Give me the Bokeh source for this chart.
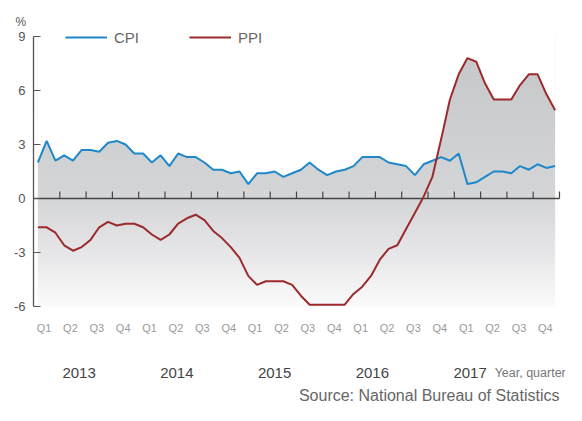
import numpy as np
from bokeh.plotting import figure
from bokeh.models import Range1d, FixedTicker, Legend, LegendItem
from bokeh.core.properties import value
from bokeh.embed import file_html
from bokeh.resources import INLINE

# ---- data (year-on-year %, monthly Jan 2013 .. Dec 2017) ----
years = ["2013", "2014", "2015", "2016", "2017"]
quarters = ["Q1", "Q2", "Q3", "Q4"]
cpi = [2.0, 3.2, 2.1, 2.4, 2.1, 2.7, 2.7, 2.6, 3.1, 3.2, 3.0, 2.5,
       2.5, 2.0, 2.4, 1.8, 2.5, 2.3, 2.3, 2.0, 1.6, 1.6, 1.4, 1.5,
       0.8, 1.4, 1.4, 1.5, 1.2, 1.4, 1.6, 2.0, 1.6, 1.3, 1.5, 1.6,
       1.8, 2.3, 2.3, 2.3, 2.0, 1.9, 1.8, 1.3, 1.9, 2.1, 2.3, 2.1,
       2.5, 0.8, 0.9, 1.2, 1.5, 1.5, 1.4, 1.8, 1.6, 1.9, 1.7, 1.8]
ppi = [-1.6, -1.6, -1.9, -2.6, -2.9, -2.7, -2.3, -1.6, -1.3, -1.5, -1.4, -1.4,
       -1.6, -2.0, -2.3, -2.0, -1.4, -1.1, -0.9, -1.2, -1.8, -2.2, -2.7, -3.3,
       -4.3, -4.8, -4.6, -4.6, -4.6, -4.8, -5.4, -5.9, -5.9, -5.9, -5.9, -5.9,
       -5.3, -4.9, -4.3, -3.4, -2.8, -2.6, -1.7, -0.8, 0.1, 1.2, 3.3, 5.5,
       6.9, 7.8, 7.6, 6.4, 5.5, 5.5, 5.5, 6.3, 6.9, 6.9, 5.8, 4.9]
y_ticks = [-6, -3, 0, 3, 6, 9]

# ---- layout (canvas pixels) ----
W, H = 566, 405
LEFT, RIGHT_PAD, TOP = 33, 1, 28
Y_HI_PX, Y_LO_PX = 36, 306          # canvas rows of 9 and -6
X_END_PX = 559                       # canvas column of the end of 2017
n = len(cpi)
nq = len(years) * len(quarters)
X1 = nq * 3
Y0, Y1 = y_ticks[0], y_ticks[-1]
ppu = (Y_LO_PX - Y_HI_PX) / (Y1 - Y0)          # px per unit
ppm = (X_END_PX - LEFT) / X1                   # px per month
FW = W - LEFT - RIGHT_PAD


def y_at(py):
    return Y1 - (py - Y_HI_PX) / ppu


months = np.arange(n) + 0.5

p = figure(width=W, height=H, output_backend="svg", toolbar_location=None,
           x_range=Range1d(0, FW / ppm), y_range=Range1d(y_at(H), y_at(TOP)),
           x_axis_type=None, min_border_left=LEFT, min_border_right=RIGHT_PAD,
           min_border_top=TOP, min_border_bottom=0)
p.outline_line_color = None
p.ygrid.visible = False

# "%" unit as a title above the y axis
p.title.text = "%"
p.title.align = "left"
p.title.offset = -18
p.title.standoff = 0
p.title.text_font = "Liberation Sans"
p.title.text_font_size = "12px"
p.title.text_font_style = "normal"
p.title.text_color = "#555555"

# ---- gradient fill under the upper envelope of both series ----
xf = np.linspace(months[0], months[-1], (n - 1) * 20 + 1)
top = np.maximum(np.interp(xf, months, cpi), np.interp(xf, months, ppi))

ny = 300
yy = np.linspace(Y0, Y1, ny)
stops_y = [-6, -3, 0, 8, 9]
stops_c = [(251, 251, 251), (231, 231, 233), (213, 214, 216), (199, 200, 202), (198, 199, 201)]
img = np.empty((ny, 1), dtype=np.uint32)
view = img.view(dtype=np.uint8).reshape((ny, 1, 4))
for ch in range(3):
    view[:, 0, ch] = np.interp(yy, stops_y, [c[ch] for c in stops_c]).astype(np.uint8)
view[:, 0, 3] = 255
p.image_rgba(image=[img], x=months[0], y=Y0, dw=months[-1] - months[0], dh=Y1 - Y0)
p.varea(x=xf, y1=top, y2=np.full_like(xf, Y1 + 1), fill_color="white")

# ---- zero axis line with quarter ticks ----
qb = np.arange(0, nq + 1) * 3
tick_len = 7 / ppu
p.segment(x0=[0], y0=[0], x1=[X1], y1=[0], line_color="#444444", line_width=1.3)
p.segment(x0=qb[1:], y0=np.zeros(nq), x1=qb[1:], y1=np.full(nq, tick_len),
          line_color="#444444", line_width=1.2)

# ---- series ----
r_cpi = p.line(months, cpi, line_color="#1f88c9", line_width=2)
r_ppi = p.line(months, ppi, line_color="#9c2a2c", line_width=2)

legend = Legend(items=[LegendItem(label="CPI", renderers=[r_cpi]),
                       LegendItem(label="PPI", renderers=[r_ppi])],
                orientation="horizontal", location=(32, H - 47),
                border_line_color=None, background_fill_alpha=0,
                padding=0, margin=0, spacing=50, glyph_width=42,
                glyph_height=20, label_height=20, label_standoff=7,
                label_text_font="Liberation Sans", label_text_font_size="15px",
                label_text_color="#666666")
p.add_layout(legend)

# ---- y axis ----
ya = p.yaxis[0]
ya.bounds = (Y0, Y1)
ya.ticker = FixedTicker(ticks=y_ticks)
ya.major_label_overrides = {t: str(t) for t in y_ticks}
ya.major_tick_in = 7
ya.major_tick_out = 0
ya.minor_tick_line_color = None
ya.axis_line_color = "#555555"
ya.axis_line_width = 1.3
ya.major_tick_line_color = "#555555"
ya.major_tick_line_width = 1.2
ya.major_label_standoff = 8
ya.major_label_text_font = "Liberation Sans"
ya.major_label_text_font_size = "13px"
ya.major_label_text_color = "#555555"

# ---- quarter and year labels ----
q_pos = [1.2 + 3.01 * k for k in range(nq)]
q_txt = [quarters[k % 4] for k in range(nq)]
p.text(x=q_pos, y=[y_at(327)] * nq, text=q_txt, text_align="center",
       text_baseline="middle", text_font=value("Liberation Sans"),
       text_font_size="11px", text_color="#9a9a9a")

yr_pos = [5.2 + 11.15 * k for k in range(len(years))]
base_y = y_at(372)
p.text(x=yr_pos, y=[base_y] * len(years), text=years, text_align="center",
       text_baseline="alphabetic", text_font=value("Liberation Sans"),
       text_font_size="15px", text_color="#444444")
p.text(x=[52.6], y=[base_y], text=["Year, quarter"], text_align="left",
       text_baseline="alphabetic", text_font=value("Liberation Sans"),
       text_font_size="12.5px", text_color="#777777")
p.text(x=[X1], y=[y_at(395)], text=["Source: National Bureau of Statistics"],
       text_align="right", text_baseline="middle",
       text_font=value("Liberation Sans"), text_font_size="16px",
       text_color="#666666")

open("out.html", "w").write(file_html(p, INLINE))
